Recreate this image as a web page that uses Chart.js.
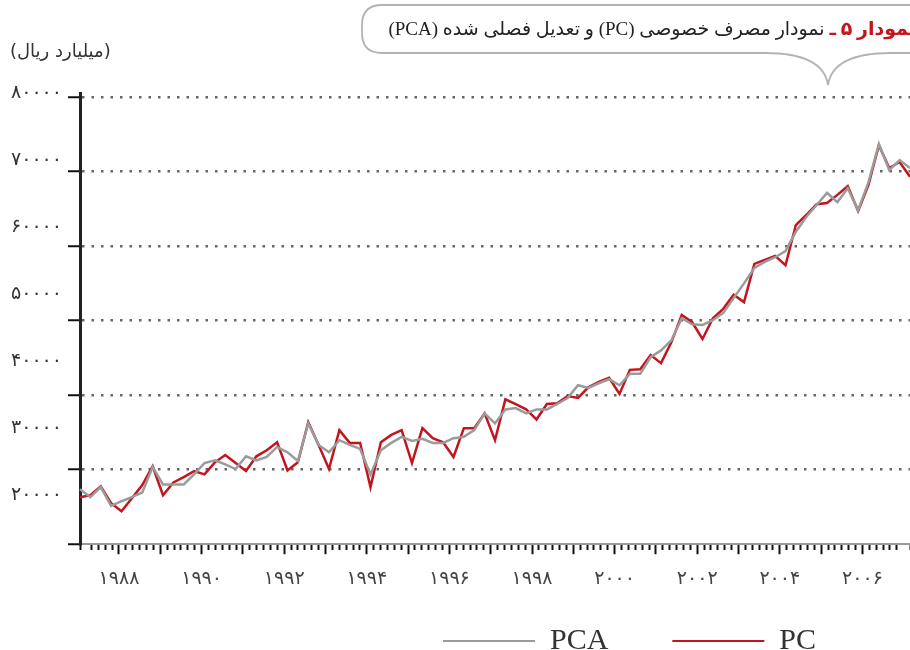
<!DOCTYPE html>
<html>
<head>
<meta charset="utf-8">
<script src="https://cdn.jsdelivr.net/npm/chart.js@4"></script>
<style>
  html, body { margin: 0; padding: 0; background: #fff; overflow: hidden; }
  #wrap { position: relative; width: 910px; height: 650px; overflow: hidden; }
  #chart { position: absolute; left: 0; top: 0; }
  #frame { position: absolute; left: 0; top: 0; }
  #title { position: absolute; top: 17px; right: -6px; direction: rtl; white-space: nowrap;
           font-family: "Liberation Serif", "DejaVu Sans", serif; font-size: 19px; color: #222; }
  #title b { color: #c3151d; }
  #unit { position: absolute; left: 10px; top: 40px; direction: rtl;
          font-family: "DejaVu Sans", sans-serif; font-size: 18px; color: #333; }
</style>
</head>
<body>
<div id="wrap">
  <canvas id="chart" width="910" height="707"></canvas>
  <svg id="frame" width="910" height="100">
    <path d="M 915 5 L 382 5 Q 362 5 362 25 L 362 33 Q 362 53 382 53 L 765 53 C 805 53 825 65 828 85 C 831 65 851 53 891 53 L 915 53"
          fill="none" stroke="#b3b3b3" stroke-width="1.8"/>
  </svg>
  <div id="title"><b>نمودار ۵ ـ</b> نمودار مصرف خصوصی (PC) و تعدیل فصلی شده (PCA)</div>
  <div id="unit">(میلیارد ریال)</div>
</div>
<script>
// فصل‌ها از ۱۹۸۷ فصل اول
const quarters = [];
for (let y = 1987; quarters.length < 81; y++) {
  for (let q = 1; q <= 4 && quarters.length < 81; q++) quarters.push(y + "Q" + q);
}

// مصرف خصوصی (PC)
const pc = [
  19700, 20000, 21300, 18800, 17600, 19550, 21500, 24300, 20000, 21900,
  22700, 23600, 23100, 24900, 26000, 24800, 23600, 25800, 26700, 27900,
  23700, 24900, 30900, 27500, 23900, 29700, 27800, 27800, 21200, 27900,
  29000, 29700, 24800, 30000, 28500, 27900, 25700, 30000, 30000, 32200,
  28200, 34300, 33600, 32800, 31300, 33600, 33700, 34800, 34500, 36100,
  36900, 37500, 35100, 38700, 38800, 40900, 39700, 42800, 46900, 45800,
  43300, 46400, 47800, 49900, 48800, 54500, 55100, 55700, 54300, 60300,
  61800, 63400, 63600, 64800, 66100, 62400, 66300, 72200, 68800, 69700,
  67500,
];

// تعدیل فصلی شده (PCA)
const pca = [
  20900, 19700, 21200, 18400, 19100, 19700, 20400, 24200, 21600, 21600,
  21600, 23100, 24800, 25200, 24600, 23900, 25800, 25200, 25700, 27200,
  26400, 25100, 30700, 27500, 26400, 28200, 27500, 26900, 23100, 26700,
  27800, 28700, 28100, 28400, 27800, 27800, 28500, 28700, 29700, 32200,
  30700, 32800, 33000, 32200, 32800, 32800, 33600, 34500, 36400, 36000,
  36700, 37300, 36400, 38100, 38100, 40600, 41600, 43100, 46400, 45500,
  45400, 46100, 47200, 49400, 51600, 53900, 54800, 55500, 56400, 59300,
  61500, 63300, 65100, 63700, 65800, 62500, 66700, 72400, 68500, 70000,
  68800,
];

const yTickValues = [20000, 30000, 40000, 50000, 60000, 70000, 80000];
const yTickLabels = ["۲۰۰۰۰", "۳۰۰۰۰", "۴۰۰۰۰", "۵۰۰۰۰", "۶۰۰۰۰", "۷۰۰۰۰", "۸۰۰۰۰"];
const xYearValues = [1988, 1990, 1992, 1994, 1996, 1998, 2000, 2002, 2004, 2006];
const xYearLabels = ["۱۹۸۸", "۱۹۹۰", "۱۹۹۲", "۱۹۹۴", "۱۹۹۶", "۱۹۹۸", "۲۰۰۰", "۲۰۰۲", "۲۰۰۴", "۲۰۰۶"];

const isWholeYear = (v) => Math.abs(v - Math.round(v)) < 1e-6;
const noSidePadding = (axis) => {
  axis.paddingLeft = 0;
  axis.paddingRight = 0;
};

// جابجایی راهنما به سمت راست مثل نمودار اصلی
const legendShift = {
  id: "legendShift",
  afterLayout(chart) {
    const lg = chart.legend;
    lg.left += 379;
    lg.right += 379;
    lg.top -= 41;
    lg.bottom -= 41;
  },
};

const ctx = document.getElementById("chart").getContext("2d");

new Chart(ctx, {
  type: "line",
  data: {
    labels: quarters,
    datasets: [
      {
        label: "PCA",
        data: pca,
        borderColor: "#9b9b9b",
        backgroundColor: "#9b9b9b",
        borderWidth: 2.5,
        pointRadius: 0,
        tension: 0,
      },
      {
        label: "PC",
        data: pc,
        borderColor: "#c3151d",
        backgroundColor: "#c3151d",
        borderWidth: 2.5,
        pointRadius: 0,
        tension: 0,
      },
    ],
  },
  options: {
    responsive: false,
    animation: false,
    layout: { padding: { top: 93, right: 0, left: 0, bottom: 0 } },
    plugins: {
      title: { display: false },
      tooltip: { enabled: false },
      legend: {
        position: "bottom",
        align: "start",
        labels: {
          boxWidth: 92,
          boxHeight: 2,
          padding: 64,
          color: "#333",
          font: { family: "Liberation Serif", size: 30 },
          generateLabels: (chart) =>
            Chart.defaults.plugins.legend.labels
              .generateLabels(chart)
              .map((item) => ({ ...item, lineWidth: 0 })),
        },
      },
    },
    scales: {
      x: { display: false, afterFit: noSidePadding },
      xt: {
        type: "linear",
        position: "bottom",
        min: 1987.056,
        max: 2007.152,
        afterFit: noSidePadding,
        border: { color: "#9a9a9a", width: 2 },
        grid: {
          drawOnChartArea: false,
          tickLength: 10,
          tickColor: "#111",
          tickWidth: 2,
          tickBorderDash: (c) => (isWholeYear(c.tick.value) ? [] : [5, 20]),
        },
        ticks: {
          stepSize: 1 / 6,
          autoSkip: false,
          maxRotation: 0,
          padding: 13,
          color: "#444",
          font: { family: "DejaVu Sans", size: 19 },
          callback: (v) => {
            const i = xYearValues.findIndex((y) => Math.abs(y - v) < 1e-6);
            return i >= 0 ? xYearLabels[i] : "";
          },
        },
      },
      y: {
        position: "left",
        weight: 1,
        min: 12688,
        max: 80000,
        border: { display: false },
        grid: { display: false, drawTicks: false },
        afterBuildTicks: (axis) => {
          axis.ticks = yTickValues.map((v) => ({ value: v }));
        },
        afterFit: (axis) => {
          axis.width = 68;
        },
        ticks: {
          padding: 6,
          color: "#333",
          font: { family: "DejaVu Sans", size: 19 },
          callback: (v) => yTickLabels[yTickValues.indexOf(v)],
        },
      },
      yg: {
        position: "left",
        weight: 0,
        min: 0,
        max: 6.054,
        border: { color: "#222", width: 3, dash: [2.5, 7] },
        grid: {
          color: (c) => (c.tick.value === 0 ? "rgba(0,0,0,0)" : "#666"),
          lineWidth: 2.5,
          tickLength: 12,
          tickColor: "#111",
          tickWidth: 2,
          tickBorderDash: [],
        },
        ticks: { display: false, stepSize: 1, includeBounds: false },
      },
    },
  },
  plugins: [legendShift],
});
</script>
</body>
</html>
